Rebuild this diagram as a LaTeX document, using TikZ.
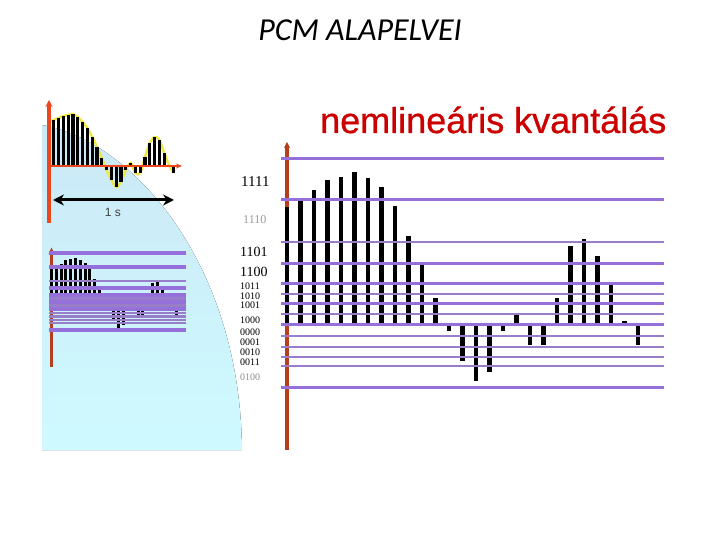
\documentclass[tikz,border=0pt]{standalone}
\usepackage{fontspec}
\setmainfont{Liberation Serif}
\newfontfamily\cimfont{Carlito}
\newfontfamily\arialfont{Liberation Sans}
\newfontfamily\alcimfont{Liberation Sans}[FakeBold=0.8]
\usetikzlibrary{arrows.meta}

\definecolor{lila}{RGB}{150,112,218}
\definecolor{szurkelila}{RGB}{152,126,200}
\definecolor{tengely}{RGB}{236,70,30}
\definecolor{barna}{RGB}{182,62,28}
\definecolor{egkek}{RGB}{204,232,246}
\definecolor{cian}{RGB}{206,250,255}
\definecolor{sarga}{RGB}{238,232,70}
\definecolor{piros}{RGB}{204,0,0}

% mintak (kvantalt es eredeti)
\newcommand{\mintak}{117,123,134,144,147,152,146,137,118,88,59,26,-7,-37,-57,-48,-7,9,-21,-21,26,78,85,68,39,3,-21}
\newcommand{\eredeti}{43,46,48,50,51,52,49,44,38,29,19,8,-4,-14,-21,-16,-4,3,-7,-7,9,23,29,26,13,1,-7}

% #1 oszlop, #2 vastag szint, #3 vekony szint, #4 tengely alja
\newcommand{\kvantabra}[4]{%
  \draw[barna, line width=#1, -{Stealth[length=6pt,width=6pt]}] (287,#4) -- (287,142);
  \foreach \h [count=\i] in \mintak
    \draw[line width=#1] ({287+13.5*(\i-1)},324) -- ++(0,-\h);
  \foreach \y in {159,200,263,283,303,324,387}
    \draw[lila, line width=#2] (281,\y) -- (664,\y);
  \foreach \y in {242,294,314,336,347,357,366}
    \draw[szurkelila, line width=#3] (281,\y) -- (664,\y);
}

\tikzset{
  kod/.style={anchor=west, inner sep=0pt, font=\fontsize{10}{10}\selectfont},
  nagykod/.style={kod, font=\fontsize{14}{14}\selectfont},
}

\begin{document}
\begin{tikzpicture}[x=1pt, y=-1pt]
\useasboundingbox (0,0) rectangle (720,540);

% hatter
\fill[top color=egkek, bottom color=cian] (42,450) -- (42,125)
  .. controls (130,140) and (240,260) .. (242,450) -- cycle;

% eredeti jel
\draw[sarga, line width=2.5pt] plot[smooth] coordinates {
  (49,123) (53.8,120) (58.6,118) (63.4,116) (68.2,115) (73,114) (77.8,117)
  (82.6,122) (87.4,128) (92.2,137) (97,147) (101.8,158) (106.6,170)
  (111.4,180) (116.2,187) (121,182) (125.8,170) (130.6,163) (135.4,173)
  (140.2,173) (145,157) (149.8,143) (154.6,137) (159.4,140) (164.2,153)
  (169,165) (173.8,173)};
\foreach \h [count=\i] in \eredeti
  \draw[line width=3.2pt] ({49+4.8*(\i-1)},166) -- ++(0,-\h);
\draw[tengely, line width=4pt, -{Stealth[length=7pt,width=7pt]}] (49,223) -- (49,100);
\draw[tengely, line width=1.5pt, -{Stealth[length=6pt,width=5pt]}] (49,166) -- (182,166);

\coordinate (egys1) at (53,200);
\coordinate (egys2) at (174,200);
\draw[line width=3pt, {Stealth[length=11pt,width=11pt]}-{Stealth[length=11pt,width=11pt]}] (egys1) -- (egys2);
\node[font=\arialfont\fontsize{12}{12}\selectfont, text=black!75] (mp) at (113,212) {1 s};

% kicsinyitett masolat
\begin{scope}[shift={(49,253)}, xscale=0.356, yscale=0.336, shift={(-280,-158)}]
  \kvantabra{3pt}{4pt}{2.5pt}{497}
\end{scope}

% nemlinearis kvantalas
\kvantabra{4.5pt}{3pt}{1.8pt}{450}

\node[kod, font=\fontsize{15}{15}\selectfont] (k1111) at (241,182) {1111};
\node[kod, font=\fontsize{12}{12}\selectfont, text=black!40] (k1110) at (243,220) {1110};
\node[nagykod] (k1101) at (240,252) {1101};
\node[nagykod] (k1100) at (240,272) {1100};
\node[kod] (k1011) at (240,286) {1011};
\node[kod] (k1010) at (240,296) {1010};
\node[kod] (k1001) at (240,305) {1001};
\node[kod] (k1000) at (240,320) {1000};
\node[kod] (k0000) at (240,332) {0000};
\node[kod] (k0001) at (240,342) {0001};
\node[kod] (k0010) at (240,352) {0010};
\node[kod] (k0011) at (240,362) {0011};
\node[kod, text=black!45] (k0100) at (240,377) {0100};

% cimek
\node (cim) at (360,30) {\cimfont\itshape\fontsize{32}{32}\selectfont PCM ALAPELVEI};
\node[anchor=base west, inner sep=0pt, text=piros] (alcim) at (320,133)
  {\alcimfont\fontsize{36}{36}\selectfont nemlineáris kvantálás};
\end{tikzpicture}
\end{document}
